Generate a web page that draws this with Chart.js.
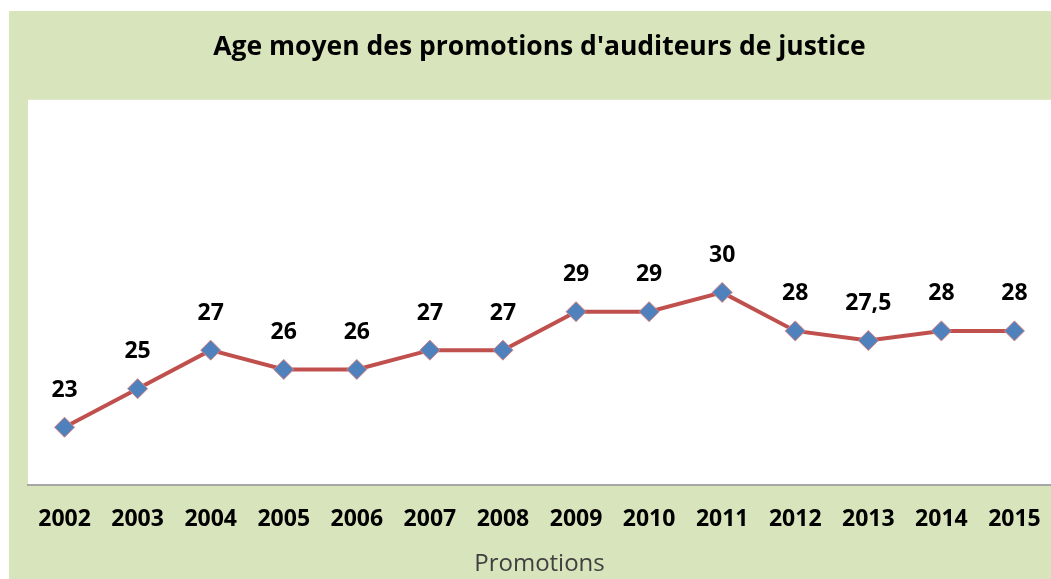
<!DOCTYPE html>
<html>
<head>
<meta charset="utf-8">
<script src="https://cdn.jsdelivr.net/npm/chart.js@4/dist/chart.umd.min.js"></script>
<style>
  html, body { margin: 0; padding: 0; background: #fff; overflow: hidden; }
  canvas { display: block; }
</style>
</head>
<body>
<canvas id="ageChart" width="1051" height="579"></canvas>
<script>
const years = ['2002', '2003', '2004', '2005', '2006', '2007', '2008', '2009', '2010', '2011', '2012', '2013', '2014', '2015'];
const ages = [23, 25, 27, 26, 26, 27, 27, 29, 29, 30, 28, 27.5, 28, 28];
const chartTitle = "Age moyen des promotions d'auditeurs de justice";
const xTitle = 'Promotions';

// backgrounds: green frame + white plot area
const bgPlugin = {
    id: 'bg',
    beforeDraw(chart) {
        const ctx = chart.ctx;
        const a = chart.chartArea;
        ctx.save();
        ctx.fillStyle = '#ffffff';
        ctx.fillRect(0, 0, chart.width, chart.height);
        ctx.fillStyle = '#d8e4bc';
        ctx.fillRect(9, 11, chart.width - 9, chart.height - 11);
        ctx.fillStyle = '#ffffff';
        ctx.fillRect(a.left, a.top, a.right - a.left, a.bottom - a.top);
        ctx.restore();
    }
};

// value labels above the points
const labelPlugin = {
    id: 'valueLabels',
    afterDatasetsDraw(chart) {
        const ctx = chart.ctx;
        const meta = chart.getDatasetMeta(0);
        ctx.save();
        ctx.font = "bold 23px 'Open Sans'";
        ctx.fillStyle = '#000';
        ctx.textAlign = 'center';
        ctx.textBaseline = 'middle';
        meta.data.forEach((pt, i) => {
            const txt = String(ages[i]).replace('.', ',');
            ctx.fillText(txt, pt.x, pt.y - 37);
        });
        ctx.restore();
    }
};

const ctx = document.getElementById('ageChart').getContext('2d');
new Chart(ctx, {
    type: 'line',
    data: {
        labels: years,
        datasets: [{
            data: ages,
            borderColor: '#c0504d',
            borderWidth: 4,
            pointStyle: 'rectRot',
            pointRadius: 10,
            pointBackgroundColor: '#4f81bd',
            pointBorderColor: '#d9827f',
            pointBorderWidth: 1,
            tension: 0,
            clip: false
        }]
    },
    options: {
        responsive: false,
        animation: false,
        layout: {
            autoPadding: false,
            padding: { left: 28, right: 0, top: 0, bottom: 2 }
        },
        scales: {
            x: {
                offset: true,
                grid: {
                    display: true,
                    drawOnChartArea: false,
                    drawTicks: true,
                    tickLength: 21,
                    color: 'rgba(0,0,0,0)'
                },
                border: { color: '#a6a6a6', width: 2 },
                ticks: {
                    color: '#000',
                    padding: 0,
                    autoSkip: false,
                    maxRotation: 0,
                    font: { family: "'Open Sans'", size: 23, weight: 'bold' }
                },
                title: {
                    display: true,
                    text: xTitle,
                    color: '#404040',
                    font: { family: "'Open Sans'", size: 24, lineHeight: 1.1 },
                    padding: { top: 17, bottom: 0 }
                }
            },
            y: {
                display: false,
                min: 20,
                max: 40
            }
        },
        plugins: {
            legend: { display: false },
            tooltip: { enabled: false },
            title: {
                display: true,
                text: chartTitle,
                color: '#000',
                font: { family: "'Open Sans'", size: 26.5, weight: 'bold' },
                padding: { top: 32, bottom: 36 }
            }
        }
    },
    plugins: [bgPlugin, labelPlugin]
});
</script>
</body>
</html>
